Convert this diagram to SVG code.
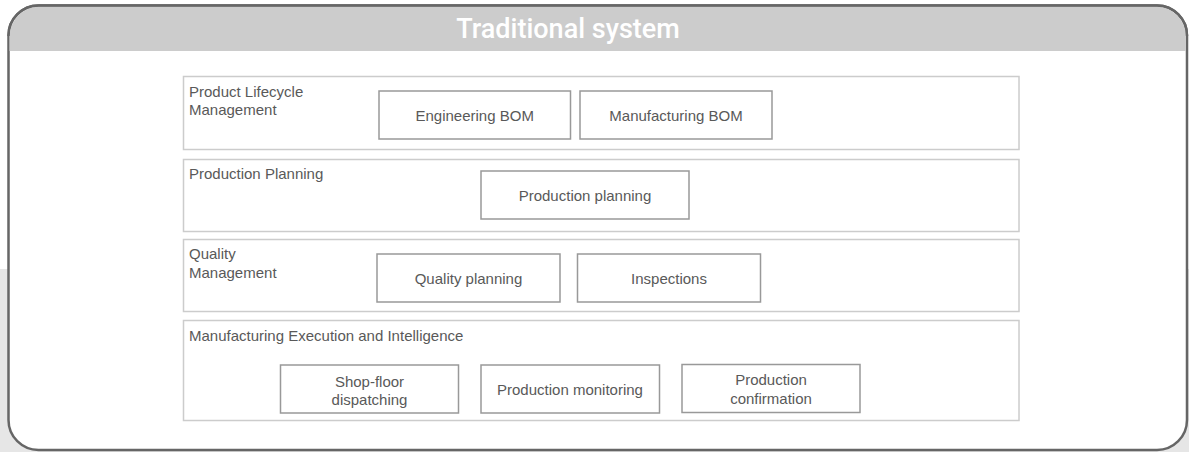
<svg xmlns="http://www.w3.org/2000/svg" width="1189" height="452" viewBox="0 0 1189 452">
<style>
.layer{fill:#fff;stroke:#cccccc;stroke-width:1.5}
.box{fill:#fff;stroke:#999999;stroke-width:1.5}
.lbl{font-family:"Liberation Sans",Arial,sans-serif;font-size:15px;fill:#595959}
.ctr{text-anchor:middle}
.title{font-family:Roboto,"Liberation Sans",sans-serif;font-weight:500;font-size:27px;fill:#ffffff;text-anchor:middle}
</style>
<rect x="0" y="0" width="1189" height="452" fill="#ffffff"/>
<rect x="0" y="269" width="1189" height="183" fill="#e6e6e6"/>
<g id="frame">
<rect x="8.5" y="5.5" width="1178.5" height="444.5" rx="30" ry="30" fill="#ffffff" stroke="#666666" stroke-width="2.5"/>
<path d="M9.5,51 V36 A30,30 0 0 1 39.5,6.5 H1156 A30,30 0 0 1 1186,36 V51 Z" fill="#cccccc"/>
<path d="M8.5,36 A30,30 0 0 1 38.5,5.5 H1157 A30,30 0 0 1 1187,36" fill="none" stroke="#666666" stroke-width="2.5"/>
<text class="title" x="568" y="38">Traditional system</text>
</g>
<g id="plm">
<rect class="layer" x="183.5" y="76.5" width="835.5" height="73"/>
<text class="lbl" x="189" y="97">Product Lifecycle</text>
<text class="lbl" x="189" y="115">Management</text>
</g>
<g id="ebom"><rect class="box" x="379" y="91" width="191.5" height="48"/><text class="lbl ctr" x="474.7" y="120.5">Engineering BOM</text></g>
<g id="mbom"><rect class="box" x="580" y="91" width="192" height="48"/><text class="lbl ctr" x="676" y="120.5">Manufacturing BOM</text></g>
<g id="pp">
<rect class="layer" x="183.5" y="159.5" width="835.5" height="72"/>
<text class="lbl" x="189" y="179">Production Planning</text>
</g>
<g id="ppbox"><rect class="box" x="481" y="171" width="208" height="48"/><text class="lbl ctr" x="585" y="200.5">Production planning</text></g>
<g id="qm">
<rect class="layer" x="183.5" y="239.5" width="835.5" height="72"/>
<text class="lbl" x="189" y="259">Quality</text>
<text class="lbl" x="189" y="278">Management</text>
</g>
<g id="qp"><rect class="box" x="377" y="254" width="183" height="48"/><text class="lbl ctr" x="468.5" y="283.5">Quality planning</text></g>
<g id="insp"><rect class="box" x="577.5" y="254" width="183" height="48"/><text class="lbl ctr" x="669" y="283.5">Inspections</text></g>
<g id="mei">
<rect class="layer" x="183.5" y="320.5" width="835.5" height="100"/>
<text class="lbl" x="189" y="340.5">Manufacturing Execution and Intelligence</text>
</g>
<g id="sfd"><rect class="box" x="280.5" y="365" width="178" height="48"/><text class="lbl ctr" x="369.5" y="386.5">Shop-floor</text><text class="lbl ctr" x="369.5" y="405">dispatching</text></g>
<g id="pmon"><rect class="box" x="481" y="365" width="178.5" height="48"/><text class="lbl ctr" x="570" y="395">Production monitoring</text></g>
<g id="pconf"><rect class="box" x="682" y="364.5" width="178" height="48"/><text class="lbl ctr" x="771" y="385">Production</text><text class="lbl ctr" x="771" y="404">confirmation</text></g>
<g id="connectors"/>
</svg>
